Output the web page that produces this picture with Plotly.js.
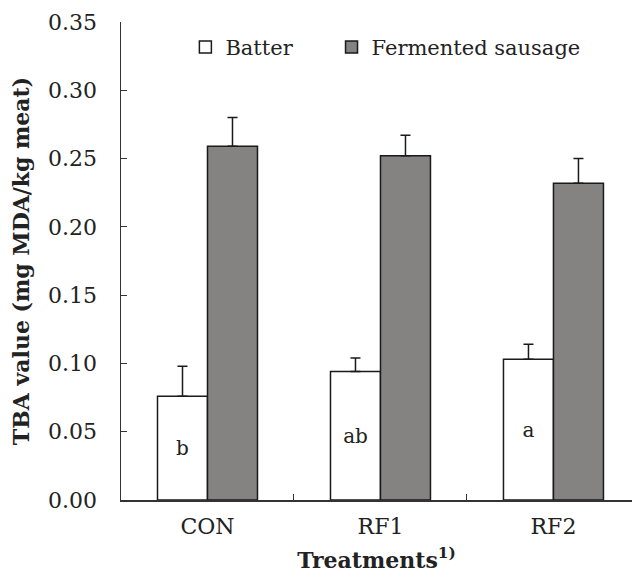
<!DOCTYPE html>
<html>
<head>
<meta charset="utf-8">
<script src="https://cdn.plot.ly/plotly-3.0.1.min.js"></script>
<style>
  html, body { margin: 0; padding: 0; background: #fff; }
  #chart { width: 632px; height: 573px; }
</style>
</head>
<body>
<div id="chart"></div>
<script>
// TBA values (mg MDA/kg meat) by treatment
const treatments = ['CON', 'RF1', 'RF2'];
const batterMean = [0.076, 0.094, 0.103];
const batterSD = [0.022, 0.010, 0.011];
const batterLetters = ['b', 'ab', 'a'];
const sausageMean = [0.259, 0.252, 0.232];
const sausageSD = [0.021, 0.015, 0.018];
const yTicks = [0, 0.05, 0.10, 0.15, 0.20, 0.25, 0.30, 0.35];

const serif = 'DejaVu Serif, serif';
const ink = '#222';
const zeros = treatments.map(() => 0);

const traces = [
  {
    type: 'bar', name: 'Batter', x: treatments, y: batterMean, legend: 'legend',
    marker: { color: '#ffffff', line: { color: '#1a1a1a', width: 1.5 } },
    error_y: { type: 'data', symmetric: false, array: batterSD, arrayminus: zeros,
               color: '#1a1a1a', thickness: 1.5, width: 5 },
    text: batterLetters, textposition: 'inside', insidetextanchor: 'middle',
    textfont: { family: serif, size: 20, color: ink }, constraintext: 'none',
    hoverinfo: 'skip'
  },
  {
    type: 'bar', name: 'Fermented sausage', x: treatments, y: sausageMean, legend: 'legend2',
    marker: { color: '#858282', line: { color: '#1a1a1a', width: 1.5 } },
    error_y: { type: 'data', symmetric: false, array: sausageSD, arrayminus: zeros,
               color: '#1a1a1a', thickness: 1.5, width: 5 },
    hoverinfo: 'skip'
  }
];

// one legend per series so each entry sits at its own spot
const legendStyle = (x) => ({
  orientation: 'h', x: x, y: 0.99, xanchor: 'left', yanchor: 'top',
  font: { family: serif, size: 21, color: ink },
  bgcolor: 'rgba(0,0,0,0)', itemwidth: 30
});

const layout = {
  width: 632, height: 573,
  margin: { l: 121, r: 0, t: 22, b: 73 },
  paper_bgcolor: '#fff', plot_bgcolor: '#fff',
  font: { family: serif, color: ink },
  barmode: 'group', bargap: 0.422, bargroupgap: 0,
  showlegend: true,
  legend: legendStyle(0.126),
  legend2: legendStyle(0.412),
  xaxis: {
    type: 'category', categoryorder: 'array', categoryarray: treatments,
    range: [-0.5, 2.454], fixedrange: true,
    showline: true, linecolor: '#333', linewidth: 1.5, mirror: false,
    ticks: 'inside', tickson: 'boundaries', ticklen: 6, tickcolor: '#333',
    tickfont: { family: serif, size: 22, color: ink },
    ticklabelstandoff: 6,
    showgrid: false, zeroline: false,
    title: { text: '<b>Treatments<sup>1)</sup></b>', font: { family: serif, size: 22, color: ink }, standoff: 14 }
  },
  yaxis: {
    range: [0, 0.35], fixedrange: true,
    tickvals: yTicks, tickformat: '.2f',
    showline: true, linecolor: '#333', linewidth: 1.5,
    ticks: 'inside', ticklen: 6, tickcolor: '#333',
    tickfont: { family: serif, size: 22, color: ink },
    ticklabelstandoff: 18,
    showgrid: false, zeroline: false,
    title: { text: '<b>TBA value (mg MDA/kg meat)</b>', font: { family: serif, size: 22, color: ink }, standoff: 12 }
  }
};

Plotly.newPlot('chart', traces, layout, { displayModeBar: false, staticPlot: true });
</script>
</body>
</html>
